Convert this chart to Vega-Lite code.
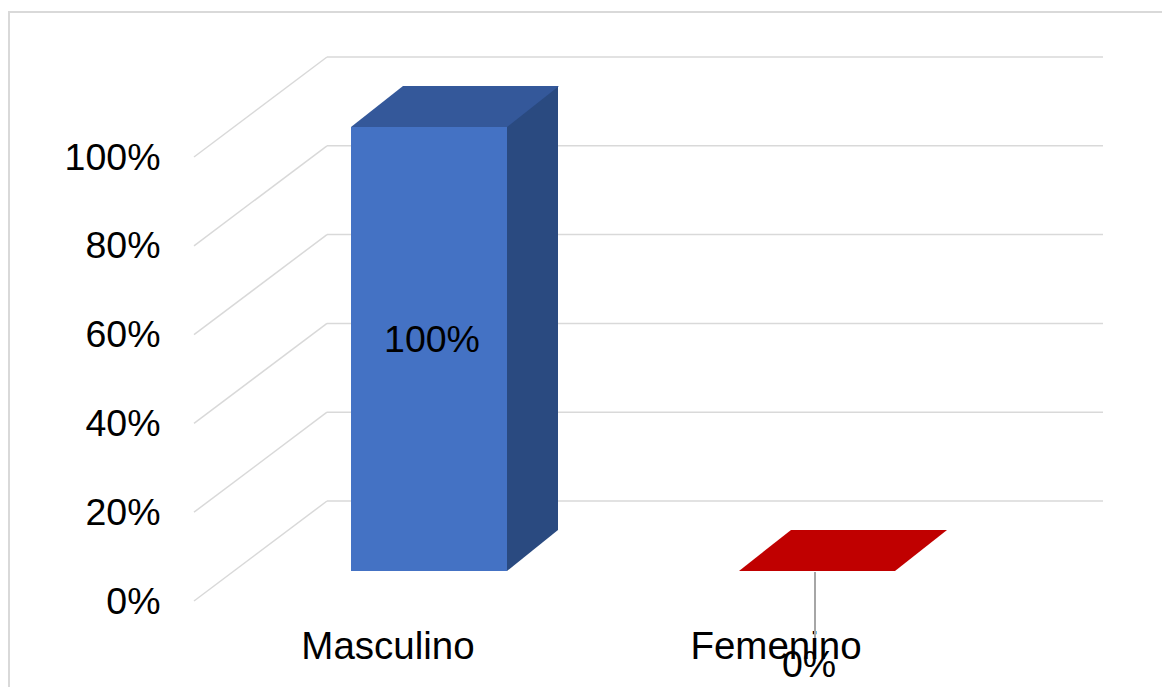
{
  "$schema": "https://vega.github.io/schema/vega-lite/v6.json",
  "width": 776,
  "height": 444,
  "autosize": {"type": "none"},
  "padding": {"left": 194, "top": 157, "right": 192, "bottom": 86},
  "background": "white",
  "config": {"view": {"stroke": null}, "font": "Liberation Sans"},
  "datasets": {
    "grid": [{"v": 0}, {"v": 0.2}, {"v": 0.4}, {"v": 0.6}, {"v": 0.8}, {"v": 1}],
    "bars": [{"cat": "Masculino", "value": 1}, {"cat": "Femenino", "value": 0}]
  },
  "layer": [
    {
      "layer": [
        {
          "data": {"name": "grid"},
          "mark": {"type": "rule", "color": "#D9D9D9", "strokeWidth": 1.5, "x2Offset": 133, "y2Offset": -100},
          "encoding": {
            "x": {"datum": 0, "type": "quantitative", "scale": {"domain": [0, 1], "nice": false, "zero": false}, "axis": null},
            "x2": {"datum": 0},
            "y": {"field": "v", "type": "quantitative", "scale": {"domain": [0, 1], "nice": false}, "axis": null},
            "y2": {"field": "v"}
          }
        },
        {
          "data": {"name": "grid"},
          "mark": {"type": "rule", "color": "#D9D9D9", "strokeWidth": 1.5, "xOffset": 133, "x2Offset": 133, "yOffset": -100},
          "encoding": {
            "x": {"datum": 0, "type": "quantitative", "axis": null},
            "x2": {"datum": 1},
            "y": {"field": "v", "type": "quantitative", "axis": null}
          }
        },
        {
          "data": {"values": [{}]},
          "mark": {"type": "rect", "fill": "white", "fillOpacity": 0, "stroke": "#D9D9D9", "strokeWidth": 2, "xOffset": -185, "x2Offset": 194, "yOffset": -145, "y2Offset": 100},
          "encoding": {
            "x": {"datum": 0, "type": "quantitative", "axis": null},
            "x2": {"datum": 1},
            "y": {"datum": 1, "type": "quantitative", "axis": null},
            "y2": {"datum": 0}
          }
        }
      ]
    },
    {
      "data": {"name": "bars"},
      "encoding": {
        "x": {
          "field": "cat", "type": "nominal", "sort": null,
          "scale": {"paddingInner": 0, "paddingOuter": 0},
          "axis": {"labelAngle": 0, "labelFontSize": 38.5, "labelFont": "Liberation Sans", "labelColor": "#000000", "labelPadding": 27, "domain": false, "ticks": false, "tickSize": 0, "title": null, "grid": false}
        }
      },
      "layer": [
        {
          "transform": [{"filter": "datum.value > 0"}],
          "mark": {"type": "bar", "color": "#2A4A80", "width": 51, "xOffset": 144.5, "yOffset": -71, "y2Offset": -30},
          "encoding": {
            "y": {"field": "value", "type": "quantitative", "scale": {"domain": [0, 1], "nice": false},
              "axis": {"values": [0, 0.2, 0.4, 0.6, 0.8, 1], "format": ".0%", "labelFontSize": 37.5, "labelFont": "Liberation Sans", "labelColor": "#000000", "labelPadding": 34, "labelOffset": 1, "domain": false, "ticks": false, "tickSize": 0, "grid": false, "title": null}},
            "y2": {"datum": 0}
          }
        },
        {
          "transform": [{"filter": "datum.value > 0"}],
          "mark": {"type": "point", "shape": "M119,-30L170,-71L173,-71L173,-27L119,-27Z", "size": 4, "filled": true, "opacity": 1, "color": "white", "strokeWidth": 0},
          "encoding": {"y": {"datum": 0, "type": "quantitative"}}
        },
        {
          "mark": {"type": "bar", "color": "#4472C4", "width": 156, "xOffset": 41, "yOffset": -30, "y2Offset": -30},
          "encoding": {
            "y": {"field": "value", "type": "quantitative"},
            "y2": {"datum": 0}
          }
        },
        {
          "mark": {"type": "point", "shape": "M-78,0L78,0L130,-41L-26,-41Z", "size": 4, "filled": true, "opacity": 1, "strokeWidth": 0, "xOffset": 41, "yOffset": -30},
          "encoding": {
            "y": {"field": "value", "type": "quantitative"},
            "color": {"field": "cat", "type": "nominal", "scale": {"domain": ["Masculino", "Femenino"], "range": ["#34589A", "#C00000"]}, "legend": null}
          }
        },
        {
          "transform": [{"filter": "datum.value == 0"}],
          "mark": {"type": "rule", "color": "#A6A6A6", "strokeWidth": 2, "xOffset": 39, "yOffset": -29, "y2Offset": 37},
          "encoding": {
            "y": {"field": "value", "type": "quantitative"},
            "y2": {"field": "value"}
          }
        },
        {
          "transform": [{"filter": "datum.value > 0"}],
          "mark": {"type": "text", "font": "Liberation Sans", "fontSize": 37.5, "color": "#000000", "baseline": "middle", "align": "center", "xOffset": 44, "yOffset": 184},
          "encoding": {
            "y": {"field": "value", "type": "quantitative"},
            "text": {"field": "value", "type": "quantitative", "format": ".0%"}
          }
        },
        {
          "transform": [{"filter": "datum.value == 0"}],
          "mark": {"type": "text", "font": "Liberation Sans", "fontSize": 37.5, "color": "#000000", "baseline": "middle", "align": "center", "xOffset": 33, "yOffset": 65},
          "encoding": {
            "y": {"field": "value", "type": "quantitative"},
            "text": {"field": "value", "type": "quantitative", "format": ".0%"}
          }
        }
      ]
    }
  ],
  "resolve": {"scale": {"x": "independent", "y": "independent"}, "axis": {"x": "independent", "y": "independent"}}
}
